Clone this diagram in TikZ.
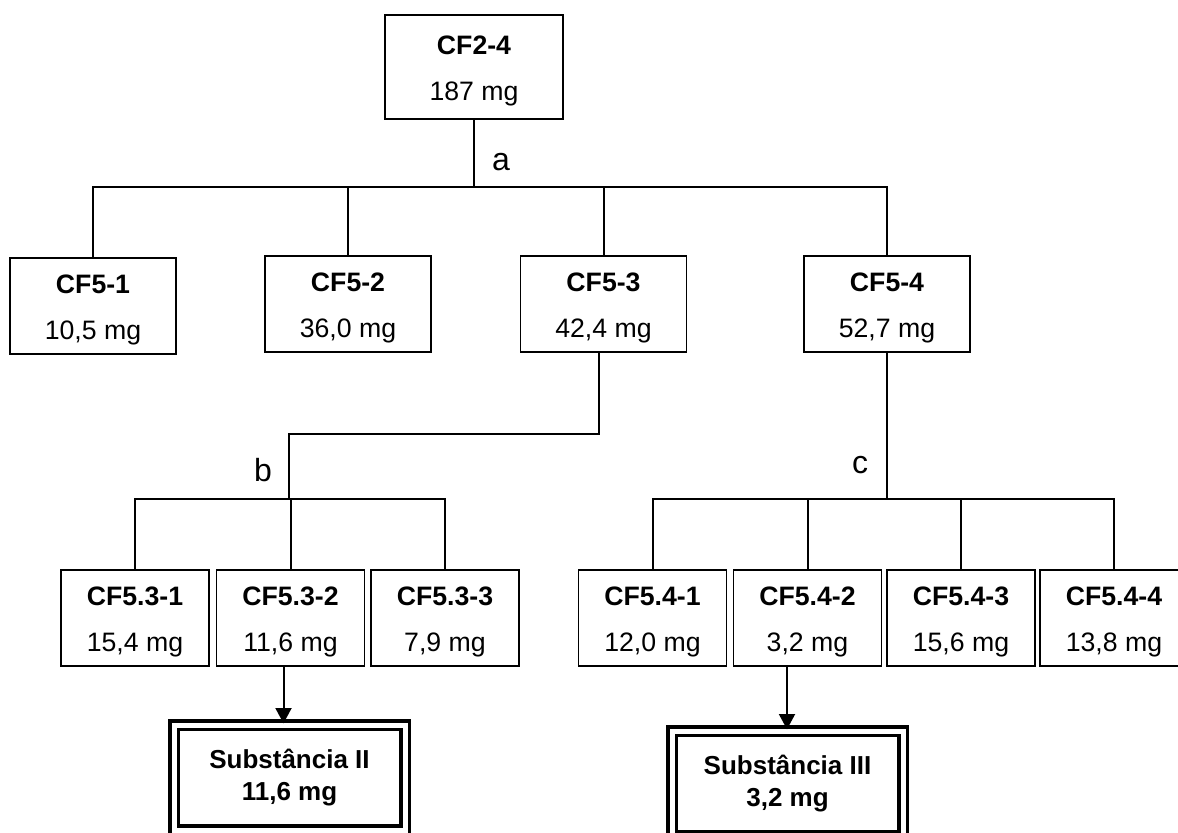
\documentclass[tikz,border=0pt]{standalone}
\usepackage{fontspec}
\setmainfont{Liberation Sans}
\usetikzlibrary{calc,arrows.meta}
\begin{document}
\begin{tikzpicture}[x=0.75pt,y=-0.75pt,
  conn/.style={line width=1.5pt},
  fbox/.style={draw, line width=1.3pt, inner sep=0pt, minimum height=72pt},
  wide/.style={fbox, minimum width=124.5pt},
  narrow/.style={fbox, minimum width=111pt},
  lbl/.style={font=\fontsize{20}{34.5}\selectfont, align=center, inner sep=0pt, yshift=-3pt},
  ftext/.style 2 args={label={[lbl]center:{\textbf{#1}\\#2}}},
  sub/.style={draw, double, line width=2.5pt, double distance=3.75pt, inner sep=0pt,
    minimum width=173.25pt, minimum height=78.75pt, align=center,
    font=\bfseries\fontsize{19.5}{24}\selectfont},
  lab/.style={font=\fontsize{24}{24}\selectfont, inner sep=0pt},
  arr/.style={conn, -{Triangle[width=12pt,length=11.5pt]}}
]
\clip (0,0) rectangle (1178,832);
% top
\node[fbox, minimum width=133.5pt, minimum height=78pt, ftext={CF2-4}{187 mg}] (top) at (474,67) {};
% level 2
\node[wide, ftext={CF5-1}{10,5 mg}] (cf51) at (93,306) {};
\node[wide, ftext={CF5-2}{36,0 mg}] (cf52) at (348,304) {};
\node[wide, ftext={CF5-3}{42,4 mg}] (cf53) at (603.5,304) {};
\node[wide, ftext={CF5-4}{52,7 mg}] (cf54) at (887,304) {};
% level 3
\node[narrow, ftext={CF5.3-1}{15,4 mg}] (c531) at (135,618) {};
\node[narrow, ftext={CF5.3-2}{11,6 mg}] (c532) at (290.5,618) {};
\node[narrow, ftext={CF5.3-3}{7,9 mg}] (c533) at (445,618) {};
\node[narrow, ftext={CF5.4-1}{12,0 mg}] (c541) at (652.5,618) {};
\node[narrow, ftext={CF5.4-2}{3,2 mg}] (c542) at (807.5,618) {};
\node[narrow, ftext={CF5.4-3}{15,6 mg}] (c543) at (961,618) {};
\node[narrow, ftext={CF5.4-4}{13,8 mg}] (c544) at (1114,618) {};
% substances
\node[sub] (sub2) at (289.5,777.5) {Substância II\\11,6 mg};
\node[sub] (sub3) at (787.5,783.5) {Substância III\\3,2 mg};
% labels
\node[lab] (la) at (501,162) {a};
\node[lab] (lb) at (263,470) {b};
\node[lab] (lc) at (860,465) {c};
% branch a
\coordinate (ja) at (474,187);
\draw[conn] (top.south) -- (ja);
\draw[conn] (cf51.north) |- (cf54.north |- ja) -- (cf54.north);
\draw[conn] (cf52.north) -- (cf52.north |- ja);
\draw[conn] (cf53.north) -- (cf53.north |- ja);
% branch b
\coordinate (b1) at ($(cf53.south)+(-5,0)$);
\coordinate (jb) at (289,434);
\coordinate (kb) at (289,499);
\draw[conn] (b1) |- (jb) -- (kb);
\draw[conn] (c531.north) |- (c533.north |- kb) -- (c533.north);
\draw[conn] (c532.north) -- (c532.north |- kb);
% branch c
\coordinate (kc) at (887,499);
\draw[conn] (cf54.south) -- (kc);
\draw[conn] (c541.north) |- (c544.north |- kc) -- (c544.north);
\draw[conn] (c542.north) -- (c542.north |- kc);
\draw[conn] (c543.north) -- (c543.north |- kc);
% arrows
\coordinate (a2) at ($(c532.south)+(-7,0)$);
\draw[arr] (a2) -- (a2 |- sub2.north);
\coordinate (a3) at ($(c542.south)+(-20.5,0)$);
\draw[arr] (a3) -- (a3 |- sub3.north);
\end{tikzpicture}
\end{document}
